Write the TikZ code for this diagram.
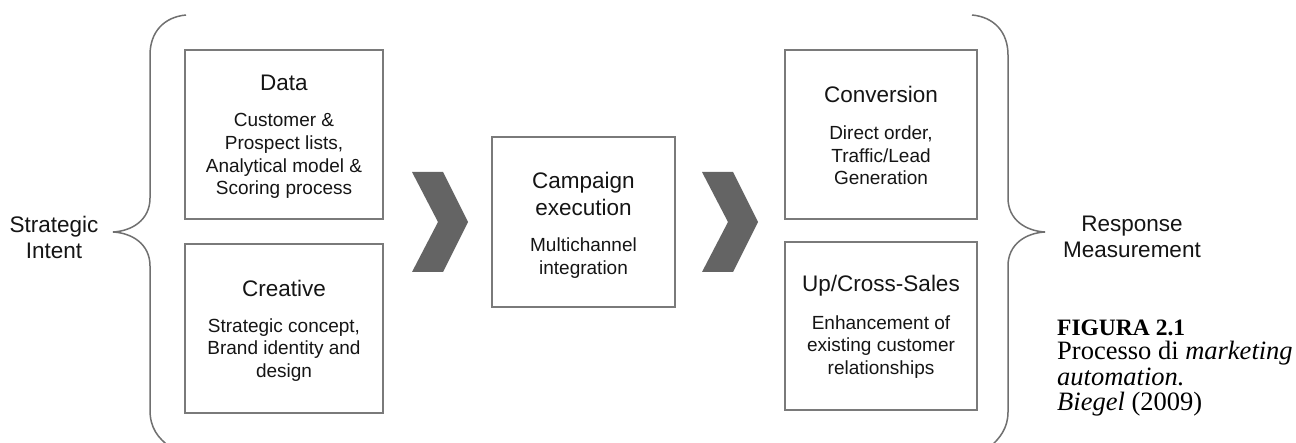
\documentclass[tikz,border=0pt]{standalone}
\usepackage{fontspec}
\setmainfont{Liberation Serif}
\newfontfamily\arialfont{Liberation Sans}
\definecolor{boxline}{HTML}{7A7A7A}
\definecolor{braceline}{HTML}{707070}
\definecolor{chevron}{HTML}{646464}
\definecolor{ink}{HTML}{151515}
\tikzset{
  stagebox/.style={draw=boxline, line width=1.4pt, minimum width=#1, inner sep=0pt},
  boxtitle/.style={inner sep=0pt, align=center, text=ink, font=\arialfont\fontsize{22.5}{27}\selectfont},
  boxbody/.style={inner sep=0pt, align=center, text=ink, font=\arialfont\fontsize{19}{22.7}\selectfont},
  sidelabel/.style={inner sep=0pt, align=center, text=ink, font=\arialfont\fontsize{22.5}{26}\selectfont},
  bracepath/.style={draw=braceline, line width=1.5pt},
  chevronshape/.style={fill=chevron, draw=none},
}
\begin{document}
\begin{tikzpicture}[x=1pt, y=-1pt]
\useasboundingbox (0,0) rectangle (1296,443);
\clip (0,0) rectangle (1296,443);
\fill[white] (0,0) rectangle (1296,443);

% left brace and its label
\draw[bracepath] (186,15) .. controls (164,17) and (150,32) .. (150,55)
  -- (150,198) .. controls (150,220) and (132,231) .. (113,232)
  .. controls (132,233) and (150,244) .. (150,266)
  -- (150,410) .. controls (150,428) and (158,438) .. (170,447);
\node[sidelabel] (intent) at (54,237) {Strategic\\Intent};

% input stages
\node[stagebox=198pt, minimum height=169pt] (data) at (284,134.5) {};
\node[boxtitle] (data-t) at (284,83) {Data};
\node[boxbody] (data-b) at (284,156) {Customer \&\\Prospect lists,\\Analytical model \&\\Scoring process};

\node[stagebox=198pt, minimum height=169pt] (creative) at (284,328.5) {};
\node[boxtitle] (creative-t) at (284,288) {Creative};
\node[boxbody] (creative-b) at (284,350) {Strategic concept,\\Brand identity and\\design};

% first chevron
\fill[chevronshape] (412,172) -- (443,172) -- (468,222) -- (443,272) -- (412,272) -- (438,222) -- cycle;

% execution stage
\node[stagebox=183pt, minimum height=170pt] (campaign) at (583.5,222) {};
\node[boxtitle] (campaign-t) at (583.5,193.5) {Campaign\\execution};
\node[boxbody] (campaign-b) at (583.5,258) {Multichannel\\integration};

% second chevron
\fill[chevronshape] (702,172) -- (733,172) -- (758,222) -- (733,272) -- (702,272) -- (728,222) -- cycle;

% outcome stages
\node[stagebox=192pt, minimum height=169pt] (conversion) at (881,134.5) {};
\node[boxtitle] (conversion-t) at (881,94) {Conversion};
\node[boxbody] (conversion-b) at (881,155.3) {Direct order,\\Traffic/Lead\\Generation};

\node[stagebox=192pt, minimum height=168pt] (upcross) at (881,326) {};
\node[boxtitle] (upcross-t) at (881,286) {Up/Cross-Sales};
\node[boxbody] (upcross-b) at (881,347) {Enhancement of\\existing customer\\relationships};

% right brace and its label
\draw[bracepath] (972,15) .. controls (994,17) and (1008,32) .. (1008,55)
  -- (1008,198) .. controls (1008,220) and (1026,231) .. (1045,232)
  .. controls (1026,233) and (1008,244) .. (1008,266)
  -- (1008,412) .. controls (1008,428) and (1000,438) .. (990,447);
\node[sidelabel] (response) at (1132,237) {Response\\Measurement};

% caption
\node[anchor=west, inner sep=0pt, font=\bfseries\fontsize{23.5}{26}\selectfont] (fig-num) at (1057,328) {FIGURA 2.1};
\node[anchor=west, inner sep=0pt, align=left, font=\fontsize{26.5}{25.5}\selectfont] (fig-text) at (1057,379)
  {Processo di \textit{marketing}\\\textit{automation.}\\\textit{Biegel} (2009)};
\end{tikzpicture}
\end{document}
